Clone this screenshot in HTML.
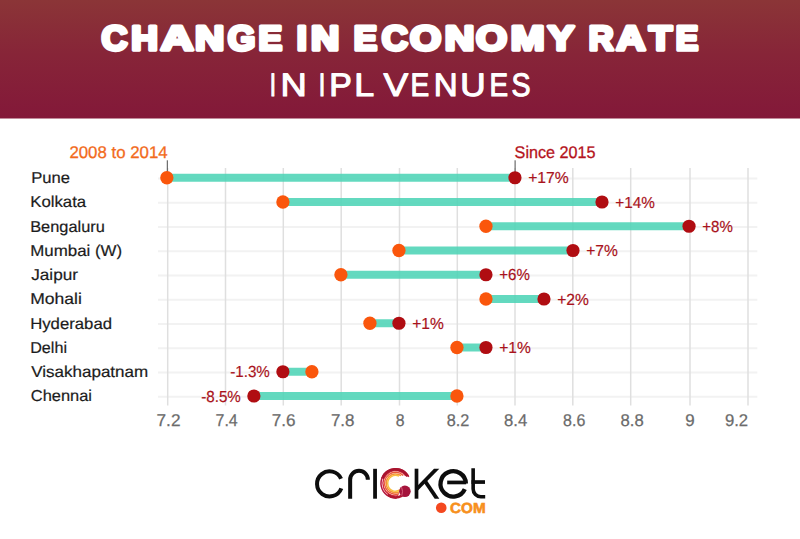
<!DOCTYPE html>
<html><head><meta charset="utf-8"><style>
html,body{margin:0;padding:0;background:#fff;width:800px;height:539px;overflow:hidden}
svg{display:block}
text{text-rendering:geometricPrecision}
</style></head><body>
<svg width="800" height="539" viewBox="0 0 800 539">
<rect width="800" height="539" fill="#fff"/>
<defs><linearGradient id="hg" x1="0" y1="0" x2="0" y2="1"><stop offset="0" stop-color="#8b3537"/><stop offset="0.45" stop-color="#872538"/><stop offset="1" stop-color="#831839"/></linearGradient></defs>
<rect x="0" y="0" width="800" height="118.5" fill="url(#hg)"/>
<g font-family="Liberation Sans, sans-serif" font-weight="bold" font-size="34.5" fill="#fff" stroke="#fff" stroke-width="3.6" stroke-linejoin="round"><text x="101.41" y="49.8" textLength="25.95" lengthAdjust="spacingAndGlyphs">C</text><text x="131.32" y="49.8" textLength="26.64" lengthAdjust="spacingAndGlyphs">H</text><text x="160.68" y="49.8" textLength="32.75" lengthAdjust="spacingAndGlyphs">A</text><text x="195.04" y="49.8" textLength="29.24" lengthAdjust="spacingAndGlyphs">N</text><text x="227.69" y="49.8" textLength="27.56" lengthAdjust="spacingAndGlyphs">G</text><text x="258.40" y="49.8" textLength="23.64" lengthAdjust="spacingAndGlyphs">E</text><text x="296.71" y="49.8" textLength="10.10" lengthAdjust="spacingAndGlyphs">I</text><text x="311.09" y="49.8" textLength="28.24" lengthAdjust="spacingAndGlyphs">N</text><text x="353.84" y="49.8" textLength="23.36" lengthAdjust="spacingAndGlyphs">E</text><text x="381.69" y="49.8" textLength="26.07" lengthAdjust="spacingAndGlyphs">C</text><text x="410.09" y="49.8" textLength="31.20" lengthAdjust="spacingAndGlyphs">O</text><text x="444.69" y="49.8" textLength="29.59" lengthAdjust="spacingAndGlyphs">N</text><text x="476.09" y="49.8" textLength="31.07" lengthAdjust="spacingAndGlyphs">O</text><text x="510.69" y="49.8" textLength="33.81" lengthAdjust="spacingAndGlyphs">M</text><text x="547.67" y="49.8" textLength="26.49" lengthAdjust="spacingAndGlyphs">Y</text><text x="588.74" y="49.8" textLength="24.85" lengthAdjust="spacingAndGlyphs">R</text><text x="616.29" y="49.8" textLength="29.33" lengthAdjust="spacingAndGlyphs">A</text><text x="649.07" y="49.8" textLength="23.13" lengthAdjust="spacingAndGlyphs">T</text><text x="675.75" y="49.8" textLength="22.52" lengthAdjust="spacingAndGlyphs">E</text></g>
<g font-family="Liberation Sans, sans-serif" font-size="32.5" fill="#fff" stroke="#fff" stroke-width="1.1" stroke-linejoin="round"><text x="269.70" y="95.5" textLength="6.27" lengthAdjust="spacingAndGlyphs">I</text><text x="280.62" y="95.5" textLength="26.27" lengthAdjust="spacingAndGlyphs">N</text><text x="318.71" y="95.5" textLength="6.53" lengthAdjust="spacingAndGlyphs">I</text><text x="329.19" y="95.5" textLength="22.58" lengthAdjust="spacingAndGlyphs">P</text><text x="354.15" y="95.5" textLength="19.95" lengthAdjust="spacingAndGlyphs">L</text><text x="383.55" y="95.5" textLength="24.74" lengthAdjust="spacingAndGlyphs">V</text><text x="410.61" y="95.5" textLength="18.70" lengthAdjust="spacingAndGlyphs">E</text><text x="433.75" y="95.5" textLength="23.89" lengthAdjust="spacingAndGlyphs">N</text><text x="460.26" y="95.5" textLength="25.38" lengthAdjust="spacingAndGlyphs">U</text><text x="489.49" y="95.5" textLength="18.60" lengthAdjust="spacingAndGlyphs">E</text><text x="511.42" y="95.5" textLength="19.03" lengthAdjust="spacingAndGlyphs">S</text></g>
<line x1="158" y1="178.55" x2="757.3" y2="178.55" stroke="#f2f2f2" stroke-width="2"/>
<line x1="158" y1="202.80" x2="757.3" y2="202.80" stroke="#f2f2f2" stroke-width="2"/>
<line x1="158" y1="227.05" x2="757.3" y2="227.05" stroke="#f2f2f2" stroke-width="2"/>
<line x1="158" y1="251.30" x2="757.3" y2="251.30" stroke="#f2f2f2" stroke-width="2"/>
<line x1="158" y1="275.55" x2="757.3" y2="275.55" stroke="#f2f2f2" stroke-width="2"/>
<line x1="158" y1="299.80" x2="757.3" y2="299.80" stroke="#f2f2f2" stroke-width="2"/>
<line x1="158" y1="324.05" x2="757.3" y2="324.05" stroke="#f2f2f2" stroke-width="2"/>
<line x1="158" y1="348.30" x2="757.3" y2="348.30" stroke="#f2f2f2" stroke-width="2"/>
<line x1="158" y1="372.55" x2="757.3" y2="372.55" stroke="#f2f2f2" stroke-width="2"/>
<line x1="158" y1="396.80" x2="757.3" y2="396.80" stroke="#f2f2f2" stroke-width="2"/>
<line x1="167.70" y1="168" x2="167.70" y2="405.5" stroke="#dfdfdf" stroke-width="1.5"/>
<line x1="225.50" y1="168" x2="225.50" y2="405.5" stroke="#dfdfdf" stroke-width="1.5"/>
<line x1="283.30" y1="168" x2="283.30" y2="405.5" stroke="#dfdfdf" stroke-width="1.5"/>
<line x1="341.20" y1="168" x2="341.20" y2="405.5" stroke="#dfdfdf" stroke-width="1.5"/>
<line x1="399.50" y1="168" x2="399.50" y2="405.5" stroke="#dfdfdf" stroke-width="1.5"/>
<line x1="457.30" y1="168" x2="457.30" y2="405.5" stroke="#dfdfdf" stroke-width="1.5"/>
<line x1="515.00" y1="168" x2="515.00" y2="405.5" stroke="#dfdfdf" stroke-width="1.5"/>
<line x1="572.80" y1="168" x2="572.80" y2="405.5" stroke="#dfdfdf" stroke-width="1.5"/>
<line x1="630.70" y1="168" x2="630.70" y2="405.5" stroke="#dfdfdf" stroke-width="1.5"/>
<line x1="690.00" y1="168" x2="690.00" y2="405.5" stroke="#dfdfdf" stroke-width="1.5"/>
<line x1="748.00" y1="168" x2="748.00" y2="405.5" stroke="#dfdfdf" stroke-width="1.5"/>
<text x="156.50" y="426" font-family="Liberation Sans, sans-serif" font-size="17" fill="#6b6b6b" stroke="#6b6b6b" stroke-width="0.25" textLength="24.00" lengthAdjust="spacingAndGlyphs">7.2</text>
<text x="215.50" y="426" font-family="Liberation Sans, sans-serif" font-size="17" fill="#6b6b6b" stroke="#6b6b6b" stroke-width="0.25" textLength="22.20" lengthAdjust="spacingAndGlyphs">7.4</text>
<text x="271.70" y="426" font-family="Liberation Sans, sans-serif" font-size="17" fill="#6b6b6b" stroke="#6b6b6b" stroke-width="0.25" textLength="23.80" lengthAdjust="spacingAndGlyphs">7.6</text>
<text x="330.90" y="426" font-family="Liberation Sans, sans-serif" font-size="17" fill="#6b6b6b" stroke="#6b6b6b" stroke-width="0.25" textLength="23.60" lengthAdjust="spacingAndGlyphs">7.8</text>
<text x="395.70" y="426" font-family="Liberation Sans, sans-serif" font-size="17" fill="#6b6b6b" stroke="#6b6b6b" stroke-width="0.25" textLength="8.80" lengthAdjust="spacingAndGlyphs">8</text>
<text x="446.70" y="426" font-family="Liberation Sans, sans-serif" font-size="17" fill="#6b6b6b" stroke="#6b6b6b" stroke-width="0.25" textLength="22.60" lengthAdjust="spacingAndGlyphs">8.2</text>
<text x="504.10" y="426" font-family="Liberation Sans, sans-serif" font-size="17" fill="#6b6b6b" stroke="#6b6b6b" stroke-width="0.25" textLength="23.20" lengthAdjust="spacingAndGlyphs">8.4</text>
<text x="563.10" y="426" font-family="Liberation Sans, sans-serif" font-size="17" fill="#6b6b6b" stroke="#6b6b6b" stroke-width="0.25" textLength="22.20" lengthAdjust="spacingAndGlyphs">8.6</text>
<text x="620.50" y="426" font-family="Liberation Sans, sans-serif" font-size="17" fill="#6b6b6b" stroke="#6b6b6b" stroke-width="0.25" textLength="23.20" lengthAdjust="spacingAndGlyphs">8.8</text>
<text x="685.30" y="426" font-family="Liberation Sans, sans-serif" font-size="17" fill="#6b6b6b" stroke="#6b6b6b" stroke-width="0.25" textLength="9.40" lengthAdjust="spacingAndGlyphs">9</text>
<text x="724.90" y="426" font-family="Liberation Sans, sans-serif" font-size="17" fill="#6b6b6b" stroke="#6b6b6b" stroke-width="0.25" textLength="23.20" lengthAdjust="spacingAndGlyphs">9.2</text>
<line x1="167.3" y1="160.3" x2="167.3" y2="172" stroke="#4d4d4d" stroke-width="1"/>
<line x1="515.1" y1="160.3" x2="515.1" y2="172" stroke="#4d4d4d" stroke-width="1"/>
<text x="167.6" y="157.8" font-family="Liberation Sans, sans-serif" font-size="16.9" fill="#f26b1d" stroke="#f26b1d" stroke-width="0.3" text-anchor="end" textLength="98.2" lengthAdjust="spacingAndGlyphs">2008 to 2014</text>
<text x="514.6" y="157.75" font-family="Liberation Sans, sans-serif" font-size="16.9" fill="#b5131c" stroke="#b5131c" stroke-width="0.3" textLength="81" lengthAdjust="spacingAndGlyphs">Since 2015</text>
<text x="31.20" y="183.00" font-family="Liberation Sans, sans-serif" font-size="15.8" fill="#1c1c1c" stroke="#1c1c1c" stroke-width="0.2" textLength="38.80" lengthAdjust="spacingAndGlyphs">Pune</text>
<rect x="166.85" y="173.75" width="348.12" height="8" fill="#4dd4b6" fill-opacity="0.88"/>
<circle cx="166.85" cy="177.75" r="6.65" fill="#fa560c"/>
<circle cx="514.97" cy="177.75" r="6.6" fill="#b00d12"/>
<text x="528.20" y="183.25" font-family="Liberation Sans, sans-serif" font-size="16" fill="#a9131c" stroke="#a9131c" stroke-width="0.2" textLength="40.60" lengthAdjust="spacingAndGlyphs">+17%</text>
<text x="30.20" y="207.25" font-family="Liberation Sans, sans-serif" font-size="15.8" fill="#1c1c1c" stroke="#1c1c1c" stroke-width="0.2" textLength="56.00" lengthAdjust="spacingAndGlyphs">Kolkata</text>
<rect x="282.89" y="198.00" width="319.11" height="8" fill="#4dd4b6" fill-opacity="0.88"/>
<circle cx="282.89" cy="202.00" r="6.65" fill="#fa560c"/>
<circle cx="602.00" cy="202.00" r="6.6" fill="#b00d12"/>
<text x="615.20" y="207.50" font-family="Liberation Sans, sans-serif" font-size="16" fill="#a9131c" stroke="#a9131c" stroke-width="0.2" textLength="39.60" lengthAdjust="spacingAndGlyphs">+14%</text>
<text x="30.20" y="231.50" font-family="Liberation Sans, sans-serif" font-size="15.8" fill="#1c1c1c" stroke="#1c1c1c" stroke-width="0.2" textLength="74.60" lengthAdjust="spacingAndGlyphs">Bengaluru</text>
<rect x="485.96" y="222.25" width="203.07" height="8" fill="#4dd4b6" fill-opacity="0.88"/>
<circle cx="485.96" cy="226.25" r="6.65" fill="#fa560c"/>
<circle cx="689.03" cy="226.25" r="6.6" fill="#b00d12"/>
<text x="702.20" y="231.75" font-family="Liberation Sans, sans-serif" font-size="16" fill="#a9131c" stroke="#a9131c" stroke-width="0.2" textLength="30.60" lengthAdjust="spacingAndGlyphs">+8%</text>
<text x="30.20" y="255.75" font-family="Liberation Sans, sans-serif" font-size="15.8" fill="#1c1c1c" stroke="#1c1c1c" stroke-width="0.2" textLength="92.00" lengthAdjust="spacingAndGlyphs">Mumbai (W)</text>
<rect x="398.93" y="246.50" width="174.06" height="8" fill="#4dd4b6" fill-opacity="0.88"/>
<circle cx="398.93" cy="250.50" r="6.65" fill="#fa560c"/>
<circle cx="572.99" cy="250.50" r="6.6" fill="#b00d12"/>
<text x="586.20" y="256.00" font-family="Liberation Sans, sans-serif" font-size="16" fill="#a9131c" stroke="#a9131c" stroke-width="0.2" textLength="31.60" lengthAdjust="spacingAndGlyphs">+7%</text>
<text x="31.20" y="280.00" font-family="Liberation Sans, sans-serif" font-size="15.8" fill="#1c1c1c" stroke="#1c1c1c" stroke-width="0.2" textLength="46.80" lengthAdjust="spacingAndGlyphs">Jaipur</text>
<rect x="340.91" y="270.75" width="145.05" height="8" fill="#4dd4b6" fill-opacity="0.88"/>
<circle cx="340.91" cy="274.75" r="6.65" fill="#fa560c"/>
<circle cx="485.96" cy="274.75" r="6.6" fill="#b00d12"/>
<text x="499.20" y="280.25" font-family="Liberation Sans, sans-serif" font-size="16" fill="#a9131c" stroke="#a9131c" stroke-width="0.2" textLength="30.60" lengthAdjust="spacingAndGlyphs">+6%</text>
<text x="30.20" y="304.25" font-family="Liberation Sans, sans-serif" font-size="15.8" fill="#1c1c1c" stroke="#1c1c1c" stroke-width="0.2" textLength="51.60" lengthAdjust="spacingAndGlyphs">Mohali</text>
<rect x="485.96" y="295.00" width="58.02" height="8" fill="#4dd4b6" fill-opacity="0.88"/>
<circle cx="485.96" cy="299.00" r="6.65" fill="#fa560c"/>
<circle cx="543.98" cy="299.00" r="6.6" fill="#b00d12"/>
<text x="557.20" y="304.50" font-family="Liberation Sans, sans-serif" font-size="16" fill="#a9131c" stroke="#a9131c" stroke-width="0.2" textLength="31.60" lengthAdjust="spacingAndGlyphs">+2%</text>
<text x="30.20" y="328.50" font-family="Liberation Sans, sans-serif" font-size="15.8" fill="#1c1c1c" stroke="#1c1c1c" stroke-width="0.2" textLength="81.80" lengthAdjust="spacingAndGlyphs">Hyderabad</text>
<rect x="369.92" y="319.25" width="29.01" height="8" fill="#4dd4b6" fill-opacity="0.88"/>
<circle cx="369.92" cy="323.25" r="6.65" fill="#fa560c"/>
<circle cx="398.93" cy="323.25" r="6.6" fill="#b00d12"/>
<text x="412.20" y="328.75" font-family="Liberation Sans, sans-serif" font-size="16" fill="#a9131c" stroke="#a9131c" stroke-width="0.2" textLength="31.60" lengthAdjust="spacingAndGlyphs">+1%</text>
<text x="30.20" y="352.75" font-family="Liberation Sans, sans-serif" font-size="15.8" fill="#1c1c1c" stroke="#1c1c1c" stroke-width="0.2" textLength="36.80" lengthAdjust="spacingAndGlyphs">Delhi</text>
<rect x="456.95" y="343.50" width="29.01" height="8" fill="#4dd4b6" fill-opacity="0.88"/>
<circle cx="456.95" cy="347.50" r="6.65" fill="#fa560c"/>
<circle cx="485.96" cy="347.50" r="6.6" fill="#b00d12"/>
<text x="499.20" y="353.00" font-family="Liberation Sans, sans-serif" font-size="16" fill="#a9131c" stroke="#a9131c" stroke-width="0.2" textLength="31.60" lengthAdjust="spacingAndGlyphs">+1%</text>
<text x="31.20" y="377.00" font-family="Liberation Sans, sans-serif" font-size="15.8" fill="#1c1c1c" stroke="#1c1c1c" stroke-width="0.2" textLength="117.00" lengthAdjust="spacingAndGlyphs">Visakhapatnam</text>
<rect x="282.89" y="367.75" width="29.01" height="8" fill="#4dd4b6" fill-opacity="0.88"/>
<circle cx="311.90" cy="371.75" r="6.65" fill="#fa560c"/>
<circle cx="282.89" cy="371.75" r="6.6" fill="#b00d12"/>
<text x="230.20" y="377.25" font-family="Liberation Sans, sans-serif" font-size="16" fill="#a9131c" stroke="#a9131c" stroke-width="0.2" textLength="39.60" lengthAdjust="spacingAndGlyphs">-1.3%</text>
<text x="30.80" y="401.25" font-family="Liberation Sans, sans-serif" font-size="15.8" fill="#1c1c1c" stroke="#1c1c1c" stroke-width="0.2" textLength="61.20" lengthAdjust="spacingAndGlyphs">Chennai</text>
<rect x="253.88" y="392.00" width="203.07" height="8" fill="#4dd4b6" fill-opacity="0.88"/>
<circle cx="456.95" cy="396.00" r="6.65" fill="#fa560c"/>
<circle cx="253.88" cy="396.00" r="6.6" fill="#b00d12"/>
<text x="201.20" y="401.50" font-family="Liberation Sans, sans-serif" font-size="16" fill="#a9131c" stroke="#a9131c" stroke-width="0.2" textLength="39.60" lengthAdjust="spacingAndGlyphs">-8.5%</text>
<path d="M341.06 478.75A12.55 12.55 0 1 0 341.32 488.35" fill="none" stroke="#0d0d0d" stroke-width="4.0"/>
<path d="M350.15 498.7V479.65A8.85 8.85 0 0 1 367.85 479.65" fill="none" stroke="#0d0d0d" stroke-width="4.0"/>
<path d="M375.05 468.8V498.7" stroke="#0d0d0d" stroke-width="3.8"/>
<path d="M408.72 476.90A14.60 14.60 0 1 0 396.87 497.84" fill="none" stroke="#b5173c" stroke-width="1.5"/>
<path d="M405.87 475.84A12.70 12.70 0 1 0 398.24 495.72" fill="none" stroke="#d6303f" stroke-width="1.4"/>
<path d="M403.24 475.39A11.00 11.00 0 1 0 399.00 493.76" fill="none" stroke="#ea5a3a" stroke-width="1.4"/>
<path d="M401.13 475.70A9.40 9.40 0 1 0 399.42 491.89" fill="none" stroke="#f39139" stroke-width="1.5"/>
<path d="M399.06 476.20A7.90 7.90 0 1 0 399.79 490.00" fill="none" stroke="#f8bf3f" stroke-width="1.5"/>
<path d="M407.72 476.30A14.00 14.00 0 0 0 382.44 478.51" fill="none" stroke="#a8142e" stroke-width="2.8"/>
<path d="M387.57 494.77A14.00 14.00 0 0 0 402.17 495.66" fill="none" stroke="#b0162f" stroke-width="2.4"/>
<circle cx="404.9" cy="491.3" r="5.8" fill="#a5143c"/>
<path d="M401.5 487.2Q403.5 491.3 401.8 495.6" fill="none" stroke="#d9667f" stroke-width="0.9"/>
<path d="M416.5 468.7V498.7" stroke="#0d0d0d" stroke-width="3.7"/>
<path d="M434 468.7H439.3L416.5 492.1V486.7Z" fill="#0d0d0d"/>
<path d="M422.7 481H427.3L439.3 498.7H434.7Z" fill="#0d0d0d"/>
<path d="M447.2 482.45H466.2" stroke="#0d0d0d" stroke-width="3.7"/>
<path d="M465.89 483.46A12.70 12.70 0 1 0 464.80 489.07" fill="none" stroke="#0d0d0d" stroke-width="4.3"/>
<path d="M473.15 468.3V489A7.7 7.7 0 0 0 480.85 496.7H485.2" fill="none" stroke="#0d0d0d" stroke-width="3.6"/>
<path d="M471.5 482.05H485" stroke="#0d0d0d" stroke-width="3.7"/>
<circle cx="441.25" cy="507.8" r="5.3" fill="#f4481f"/>
<text x="450" y="513.3" font-family="Liberation Sans, sans-serif" font-weight="bold" font-size="14.6" fill="#f7901e" stroke="#f7901e" stroke-width="0.6" textLength="35.6" lengthAdjust="spacingAndGlyphs">COM</text>
</svg>
</body></html>
